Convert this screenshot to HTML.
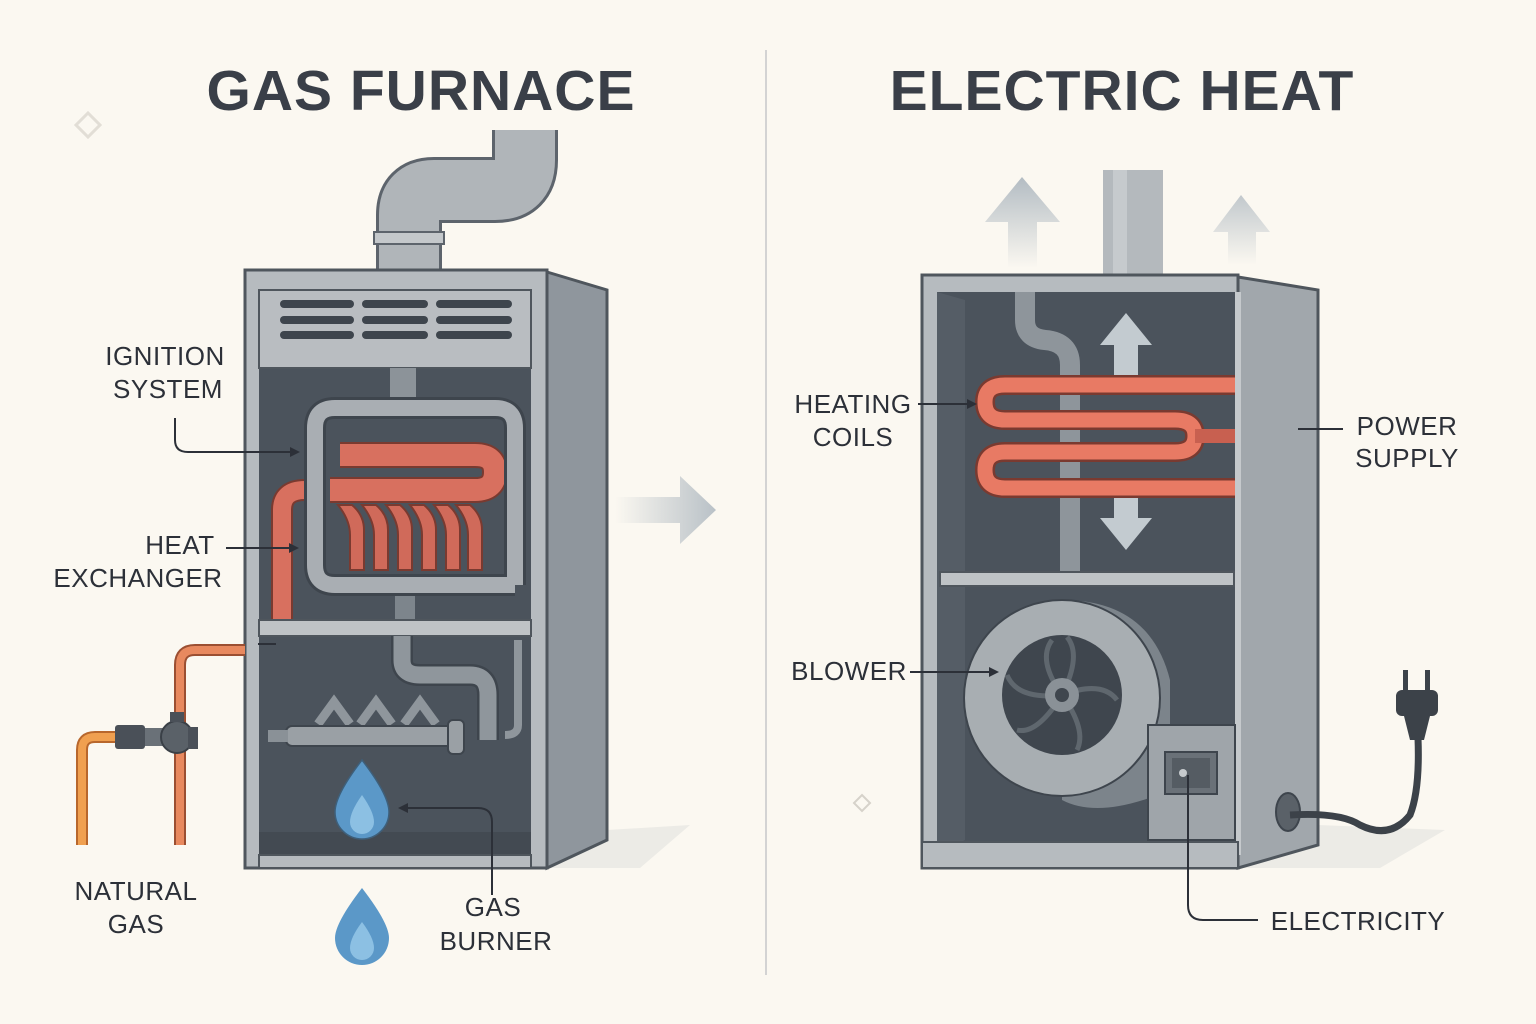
<!DOCTYPE html>
<html><head><style>
html,body{margin:0;padding:0;background:#fbf8f1;}
svg{display:block}
text{font-family:"Liberation Sans","DejaVu Sans",sans-serif;fill:#2c3038}
.t{font-size:57px;font-weight:bold;letter-spacing:1px;fill:#3a3f48}
.l{font-size:26px;letter-spacing:0.5px}
</style></head><body>
<svg width="1536" height="1024" viewBox="0 0 1536 1024" xmlns="http://www.w3.org/2000/svg">
<defs>
<linearGradient id="ag" x1="0" x2="1"><stop offset="0" stop-color="#fbf8f1"/><stop offset="1" stop-color="#b9c1c7"/></linearGradient>
<linearGradient id="ug" x1="0" y1="1" x2="0" y2="0"><stop offset="0" stop-color="#fbf8f1"/><stop offset="1" stop-color="#b3bcc3"/></linearGradient>
<marker id="ar" markerWidth="10" markerHeight="10" refX="8" refY="5" orient="auto" markerUnits="userSpaceOnUse"><path d="M0,0 L10,5 L0,10 z" fill="#2c3038"/></marker>
</defs>
<rect width="1536" height="1024" fill="#fbf8f1"/>
<line x1="766" y1="50" x2="766" y2="975" stroke="#d3d3d3" stroke-width="2"/>
<text class="t" x="421" y="110" text-anchor="middle">GAS FURNACE</text>
<text class="t" x="1122" y="110" text-anchor="middle">ELECTRIC HEAT</text>
<path d="M88,113 l12,12 l-12,12 l-12,-12z" fill="none" stroke="#e2ded6" stroke-width="3"/>
<path d="M862,795 l8,8 l-8,8 l-8,-8z" fill="none" stroke="#d6d2ca" stroke-width="2"/>

<path d="M409,272 V215 Q409,190 434,190 H495 Q525,190 525,160 V130" fill="none" stroke="#5d646c" stroke-width="66"/>
<path d="M409,272 V215 Q409,190 434,190 H495 Q525,190 525,160 V130" fill="none" stroke="#b0b5b9" stroke-width="60"/>
<rect x="374" y="232" width="70" height="12" fill="#c4c8cb" stroke="#5d646c" stroke-width="2"/>
<path d="M607,830 L690,825 L640,868 L547,868z" fill="#ecebe6"/>
<polygon points="547,272 607,290 607,840 547,868" fill="#8f969d" stroke="#4f565d" stroke-width="3"/>
<rect x="245" y="270" width="302" height="598" fill="#b6bbbf" stroke="#4f565d" stroke-width="3"/>
<rect x="259" y="368" width="272" height="487" fill="#4b535c"/>
<rect x="259" y="290" width="272" height="78" fill="#b9bdc1" stroke="#4f565d" stroke-width="2"/>
<g stroke="#3e454d" stroke-width="8" stroke-linecap="round">
<line x1="284" y1="304" x2="350" y2="304"/><line x1="366" y1="304" x2="424" y2="304"/><line x1="440" y1="304" x2="508" y2="304"/>
<line x1="284" y1="320" x2="350" y2="320"/><line x1="366" y1="320" x2="424" y2="320"/><line x1="440" y1="320" x2="508" y2="320"/>
<line x1="284" y1="335" x2="350" y2="335"/><line x1="366" y1="335" x2="424" y2="335"/><line x1="440" y1="335" x2="508" y2="335"/>
</g>
<rect x="390" y="368" width="26" height="30" fill="#8c9399"/>
<rect x="395" y="590" width="20" height="30" fill="#7d858c"/>
<path d="M282,620 V510 Q282,490 305,490" fill="none" stroke="#7a3a30" stroke-width="22"/>
<path d="M282,620 V510 Q282,490 305,490" fill="none" stroke="#d8705f" stroke-width="18"/>
<path d="M340,455 H475 Q495,455 495,472 Q495,490 475,490 H330" fill="none" stroke="#7a3a30" stroke-width="26"/>
<path d="M340,455 H475 Q495,455 495,472 Q495,490 475,490 H330" fill="none" stroke="#d8705f" stroke-width="22"/>
<g fill="#d06a5a" stroke="#7a3a30" stroke-width="2">
<path d="M338,505 q12,15 12,30 v35 h14 v-40 q0,-15 -12,-25z"/>
<path d="M362,505 q12,15 12,30 v35 h14 v-40 q0,-15 -12,-25z"/>
<path d="M386,505 q12,15 12,30 v35 h14 v-40 q0,-15 -12,-25z"/>
<path d="M410,505 q12,15 12,30 v35 h14 v-40 q0,-15 -12,-25z"/>
<path d="M434,505 q12,15 12,30 v35 h14 v-40 q0,-15 -12,-25z"/>
<path d="M456,505 q12,15 12,30 v35 h14 v-40 q0,-15 -12,-25z"/>
</g>
<path d="M515,585 H335 Q315,585 315,565 V428 Q315,408 335,408 H495 Q515,408 515,428 V585" fill="none" stroke="#3e454d" stroke-width="22"/>
<path d="M515,585 H335 Q315,585 315,565 V428 Q315,408 335,408 H495 Q515,408 515,428 V585" fill="none" stroke="#a9aeb3" stroke-width="16"/>
<rect x="259" y="620" width="272" height="16" fill="#bfc3c6" stroke="#4f565d" stroke-width="2"/>
<path d="M402,636 V660 Q402,675 420,675 H470 Q488,675 488,695 V740" fill="none" stroke="#3e454d" stroke-width="22"/>
<path d="M402,636 V660 Q402,675 420,675 H470 Q488,675 488,695 V740" fill="none" stroke="#8f969c" stroke-width="17"/>
<path d="M518,640 V725 Q518,735 505,735" fill="none" stroke="#8f969c" stroke-width="8"/>
<path d="M318,724 l16,-22 l16,22 M360,724 l16,-22 l16,22 M404,724 l16,-22 l16,22" fill="none" stroke="#8f969c" stroke-width="9"/>
<rect x="286" y="726" width="175" height="20" rx="6" fill="#9aa0a5" stroke="#3e454d" stroke-width="2"/>
<rect x="448" y="720" width="16" height="34" rx="5" fill="#9aa0a5" stroke="#3e454d" stroke-width="2"/>
<rect x="268" y="730" width="20" height="12" fill="#8a9197"/>
<path d="M259,832 L531,832 L531,855 L259,855z" fill="#434a52"/>
<rect x="259" y="855" width="272" height="13" fill="#b6bbbf" stroke="#4f565d" stroke-width="2"/>
<path d="M362,760 Q335,795 335,812 A27,27 0 0 0 389,812 Q389,795 362,760z" fill="#5b98c8" stroke="#3e5f7a" stroke-width="1.5"/>
<path d="M362,795 Q350,812 350,822 A12,12 0 0 0 374,822 Q374,812 362,795z" fill="#8cc0e3"/>
<path d="M362,888 Q335,923 335,938 A27,27 0 0 0 389,938 Q389,923 362,888z" fill="#5b98c8"/>
<path d="M362,922 Q350,938 350,948 A12,12 0 0 0 374,948 Q374,938 362,922z" fill="#8cc0e3"/>
<path d="M245,650 H195 Q180,650 180,665 V845" fill="none" stroke="#9b4f32" stroke-width="12"/>
<path d="M245,650 H195 Q180,650 180,665 V845" fill="none" stroke="#e8895f" stroke-width="8"/>
<path d="M82,845 V750 Q82,737 95,737 H125" fill="none" stroke="#b8672c" stroke-width="12"/>
<path d="M82,845 V750 Q82,737 95,737 H125" fill="none" stroke="#f0a050" stroke-width="8"/>
<rect x="115" y="725" width="30" height="24" rx="3" fill="#4a5058"/>
<rect x="145" y="728" width="20" height="18" fill="#6a7178"/>
<circle cx="177" cy="737" r="16" fill="#5a6168" stroke="#3a4047" stroke-width="2"/>
<rect x="170" y="712" width="14" height="10" fill="#4a5058"/>
<rect x="188" y="727" width="10" height="22" fill="#4a5058"/>
<path d="M615,497 H680 V476 L716,510 L680,544 V523 H615z" fill="url(#ag)"/>

<text class="l" x="165" y="365" text-anchor="middle">IGNITION</text>
<text class="l" x="168" y="398" text-anchor="middle">SYSTEM</text>
<path d="M175,418 V440 Q175,452 188,452 H298" fill="none" stroke="#2c3038" stroke-width="2" marker-end="url(#ar)"/>
<text class="l" x="180" y="554" text-anchor="middle">HEAT</text>
<text class="l" x="138" y="587" text-anchor="middle">EXCHANGER</text>
<line x1="226" y1="548" x2="297" y2="548" stroke="#2c3038" stroke-width="2" marker-end="url(#ar)"/>
<line x1="258" y1="644" x2="276" y2="644" stroke="#2c3038" stroke-width="2"/>
<text class="l" x="136" y="900" text-anchor="middle">NATURAL</text>
<text class="l" x="136" y="933" text-anchor="middle">GAS</text>
<path d="M492,895 V822 Q492,808 478,808 H400" fill="none" stroke="#2c3038" stroke-width="2" marker-end="url(#ar)"/>
<text class="l" x="493" y="916" text-anchor="middle">GAS</text>
<text class="l" x="496" y="950" text-anchor="middle">BURNER</text>

<path d="M985,222 H1008 V268 H1037 V222 H1060 L1022,177z" fill="url(#ug)"/>
<path d="M1213,232 H1228 V265 H1256 V232 H1270 L1241,195z" fill="url(#ug)" opacity="0.8"/>
<rect x="1103" y="170" width="60" height="106" fill="#b4b9bd"/>
<rect x="1113" y="170" width="14" height="106" fill="#c6cacd"/>
<path d="M1318,825 L1445,830 L1380,868 L1238,868z" fill="#ecebe6"/>
<polygon points="1238,277 1318,290 1318,845 1238,868" fill="#a1a7ac" stroke="#4f565d" stroke-width="3"/>
<rect x="922" y="275" width="316" height="593" fill="#b6bbbf" stroke="#4f565d" stroke-width="3"/>
<rect x="937" y="292" width="298" height="563" fill="#4b535c"/>
<rect x="1235" y="292" width="6" height="563" fill="#c5c9cc"/>
<polygon points="937,292 965,300 965,840 937,855" fill="#555d66"/>
<path d="M1025,292 V320 Q1025,338 1045,340 Q1070,342 1070,365 V580" fill="none" stroke="#8e959b" stroke-width="20"/>
<path d="M1100,345 L1126,313 L1152,345 H1138 V375 H1114 V345z" fill="#c3cbd0"/>
<path d="M1100,518 L1126,550 L1152,518 H1138 V490 H1114 V518z" fill="#c3cbd0"/>
<path d="M1235,385 H1005 Q985,385 985,402 Q985,420 1005,420 H1175 Q1195,420 1195,436 Q1195,452 1175,452 H1005 Q985,452 985,470 Q985,488 1005,488 H1235" fill="none" stroke="#7a3a30" stroke-width="20"/>
<path d="M1235,385 H1005 Q985,385 985,402 Q985,420 1005,420 H1175 Q1195,420 1195,436 Q1195,452 1175,452 H1005 Q985,452 985,470 Q985,488 1005,488 H1235" fill="none" stroke="#e87a64" stroke-width="15"/>
<rect x="1195" y="429" width="40" height="14" fill="#c86050"/>
<rect x="940" y="572" width="294" height="14" fill="#bfc3c6" stroke="#4f565d" stroke-width="2"/>
<path d="M1062,600 Q1150,600 1170,680 L1170,790 Q1100,820 1062,800z" fill="#7c848b"/>
<circle cx="1062" cy="698" r="98" fill="#a8aeb2" stroke="#3e454d" stroke-width="2"/>
<circle cx="1062" cy="695" r="60" fill="#3f464e"/>
<g stroke="#5f676e" stroke-width="5" fill="none">
<path d="M1062,695 q20,-40 5,-58"/><path d="M1062,695 q40,-15 55,5"/><path d="M1062,695 q25,35 15,55"/><path d="M1062,695 q-25,40 -45,35"/><path d="M1062,695 q-45,5 -55,-20"/><path d="M1062,695 q-25,-35 -10,-55"/>
</g>
<circle cx="1062" cy="695" r="17" fill="#8a9197"/><circle cx="1062" cy="695" r="7" fill="#3f464e"/>
<rect x="1148" y="725" width="87" height="115" fill="#9fa5aa" stroke="#3e454d" stroke-width="2"/>
<rect x="1165" y="752" width="52" height="42" fill="#6a7178" stroke="#3e454d" stroke-width="2"/>
<rect x="1172" y="758" width="38" height="30" fill="#555c63"/>
<circle cx="1183" cy="773" r="4" fill="#c7cbce"/>
<rect x="922" y="842" width="316" height="26" fill="#b6bbbf" stroke="#4f565d" stroke-width="2"/>
<ellipse cx="1288" cy="812" rx="12" ry="19" fill="#5a6168" stroke="#3e454d" stroke-width="2"/>
<path d="M1290,815 Q1340,812 1360,825 Q1390,840 1410,815 Q1420,790 1418,738" fill="none" stroke="#3c4249" stroke-width="7"/>
<rect x="1396" y="690" width="42" height="26" rx="6" fill="#3c4249"/>
<path d="M1404,716 h26 l-6,24 h-14z" fill="#3c4249"/>
<rect x="1403" y="670" width="5" height="22" fill="#3c4249"/><rect x="1425" y="670" width="5" height="22" fill="#3c4249"/>
<text class="l" x="853" y="413" text-anchor="middle">HEATING</text>
<text class="l" x="853" y="446" text-anchor="middle">COILS</text>
<line x1="918" y1="404" x2="975" y2="404" stroke="#2c3038" stroke-width="2" marker-end="url(#ar)"/>
<text class="l" x="1407" y="435" text-anchor="middle">POWER</text>
<text class="l" x="1407" y="467" text-anchor="middle">SUPPLY</text>
<line x1="1298" y1="429" x2="1343" y2="429" stroke="#2c3038" stroke-width="2"/>
<text class="l" x="849" y="680" text-anchor="middle">BLOWER</text>
<line x1="910" y1="672" x2="997" y2="672" stroke="#2c3038" stroke-width="2" marker-end="url(#ar)"/>
<path d="M1188,775 V905 Q1188,920 1203,920 H1258" fill="none" stroke="#2c3038" stroke-width="2"/>
<text class="l" x="1358" y="930" text-anchor="middle">ELECTRICITY</text>
</svg>
</body></html>
